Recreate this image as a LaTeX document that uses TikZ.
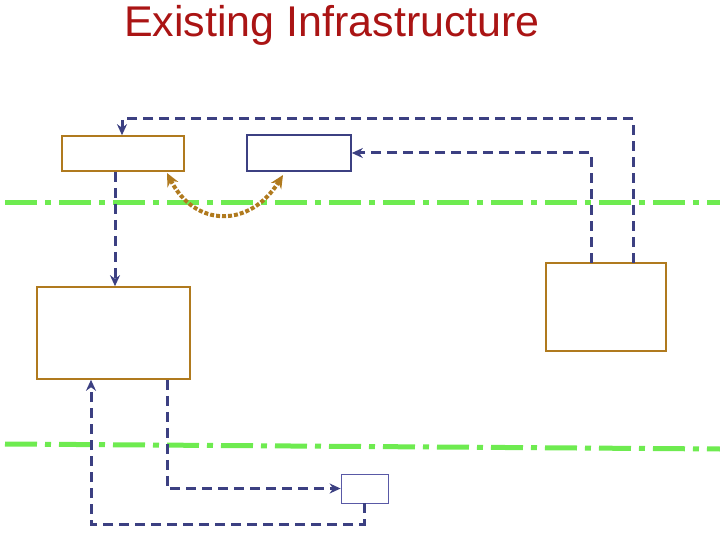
\documentclass[tikz,border=0pt]{standalone}
\usepackage{fontspec}
\setmainfont{Liberation Sans}
\usetikzlibrary{arrows.meta}
\definecolor{brn}{RGB}{176,122,30}
\definecolor{dblue}{RGB}{60,64,130}
\definecolor{grn}{RGB}{110,235,80}
\definecolor{ttl}{RGB}{170,20,20}
\begin{document}
\begin{tikzpicture}[x=1pt,y=-1pt,
  bbox/.style={draw=brn,line width=1.6pt,inner sep=0pt},
  conn/.style={draw=dblue,line width=3pt,dash pattern=on 10pt off 6pt,-{Stealth[length=11pt,width=10pt]}},
  sep/.style={draw=grn,line width=5pt,dash pattern=on 32pt off 8pt on 6pt off 8pt}]
\useasboundingbox (0,0) rectangle (720,540);
\node[text=ttl,font=\fontsize{43}{48}\selectfont] (t) at (332,25) {Existing Infrastructure};
\draw[sep] (5,203) -- (720,203);
\draw[sep] (5,444) -- (720,449);
\node[bbox,minimum width=122pt,minimum height=35pt] (A) at (123,153.5) {};
\node[bbox,draw=dblue,minimum width=104pt,minimum height=36pt] (B) at (299,153) {};
\node[bbox,minimum width=153pt,minimum height=92pt] (C) at (113.5,333) {};
\node[bbox,minimum width=120pt,minimum height=88pt] (D) at (606,307) {};
\node[draw=gray!70!blue,line width=0.8pt,minimum width=47pt,minimum height=29pt,inner sep=0pt] (E) at (364.5,488.5) {};
\coordinate (d1) at (633,263);
\coordinate (d2) at (591,263);
\draw[conn] (d1) |- (122,119) -- (A.north -| 122,0);
\draw[conn] (d2) |- (B.east);
\draw[conn] (A.south -| 115,0) -- (C.north -| 115,0);
\draw[conn] (C.south -| 167,0) |- (E.west);
\draw[conn] (E.south) |- (91,524) -- (C.south -| 91,0);
\draw[draw=brn,line width=4pt,dotted,{Stealth[length=13pt,width=12pt]}-{Stealth[length=13pt,width=12pt]}]
  (167,173) .. controls (195,228) and (250,228) .. (283,175);
\end{tikzpicture}
\end{document}
